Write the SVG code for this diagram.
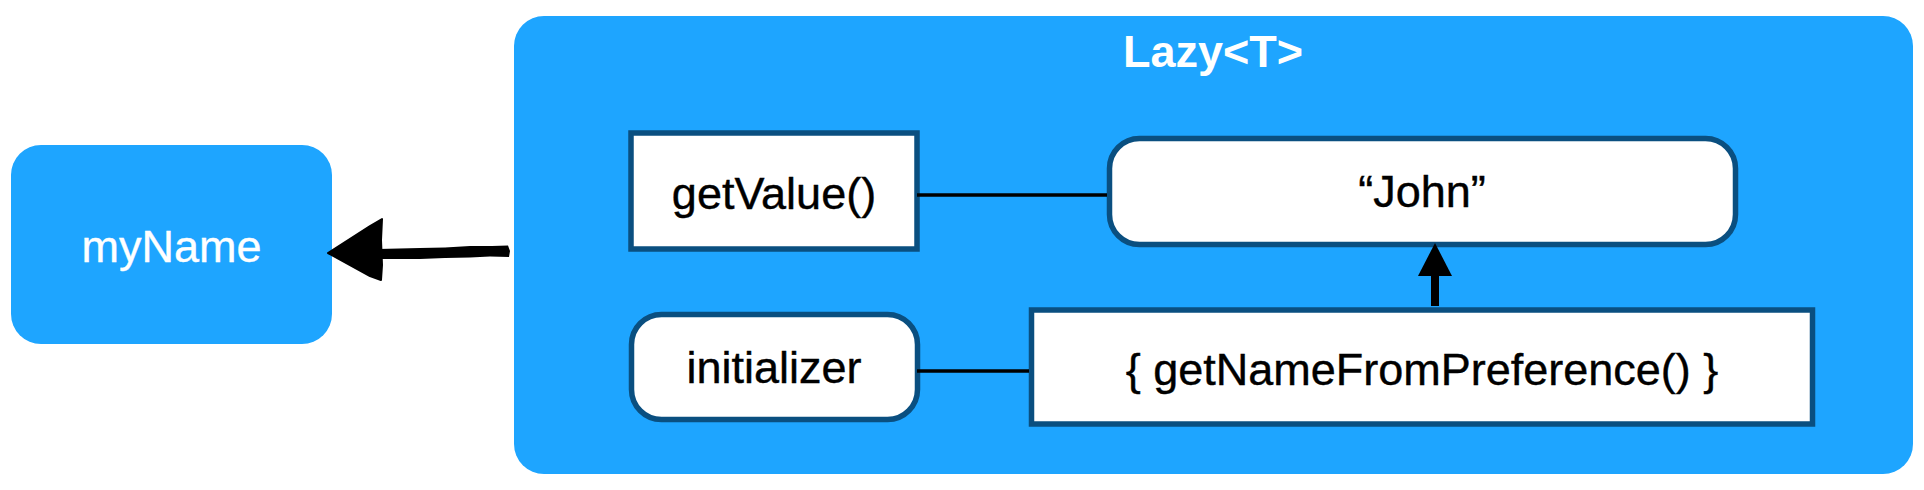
<svg xmlns="http://www.w3.org/2000/svg" width="1924" height="490" viewBox="0 0 1924 490">
<style>
.blue{fill:#1ea5ff}
.node{fill:#ffffff;stroke:#0a4f80;stroke-width:5.5}
.t{font-family:"Liberation Sans",Arial,Helvetica,sans-serif;font-size:45px;fill:#000;text-anchor:middle;stroke:#000;stroke-width:0.4}
.w{fill:#ffffff;stroke:#ffffff}
.conn{stroke:#000;stroke-width:3.5;fill:none}
</style>
<rect width="1924" height="490" fill="#ffffff"/>
<g id="myName">
<rect class="blue" x="11" y="145" width="321" height="199" rx="30"/>
<text class="t w" x="171.5" y="262" font-size="45.5">myName</text>
</g>
<g id="lazy">
<rect class="blue" x="514" y="16" width="1399" height="458" rx="30"/>
<text class="t w" x="1213" y="67" font-size="44.5" font-weight="bold" style="stroke-width:0">Lazy&lt;T&gt;</text>
</g>
<g id="getValue">
<rect class="node" x="631" y="133" width="286" height="116"/>
<text class="t" x="774" y="209" font-size="44.5">getValue()</text>
</g>
<g id="initializer">
<rect class="node" x="631.5" y="314.5" width="286" height="105" rx="30"/>
<text class="t" x="774" y="383" font-size="46.5">initializer</text>
</g>
<g id="john">
<rect class="node" x="1109.5" y="138.5" width="626" height="106" rx="30"/>
<text class="t" x="1422" y="207" font-size="45">“John”</text>
</g>
<g id="getName">
<rect class="node" x="1031.5" y="310" width="781" height="114"/>
<text class="t" x="1422" y="385" font-size="45.8">{ getNameFromPreference() }</text>
</g>
<g id="connectors">
<line class="conn" x1="917" y1="195" x2="1107" y2="195"/>
<line class="conn" x1="917" y1="371" x2="1029" y2="371"/>
<line x1="1435" y1="306" x2="1435" y2="274" stroke="#000" stroke-width="8"/>
<path d="M1435,243 L1452,276 L1418,276 Z" fill="#000"/>
<path d="M378,249 L420,248 L445,247.5 L470,246 L492,246 L508,245.5 L510,251 L509,257 L490,256.5 L470,257.5 L445,258 L420,259 L378,259 Z" fill="#000"/>
<path d="M328,253 L370,226 L382,219 L381,240 L382,265 L381,280 L370,276 Z" fill="#000" stroke="#000" stroke-width="2" stroke-linejoin="round"/>
</g>
</svg>
